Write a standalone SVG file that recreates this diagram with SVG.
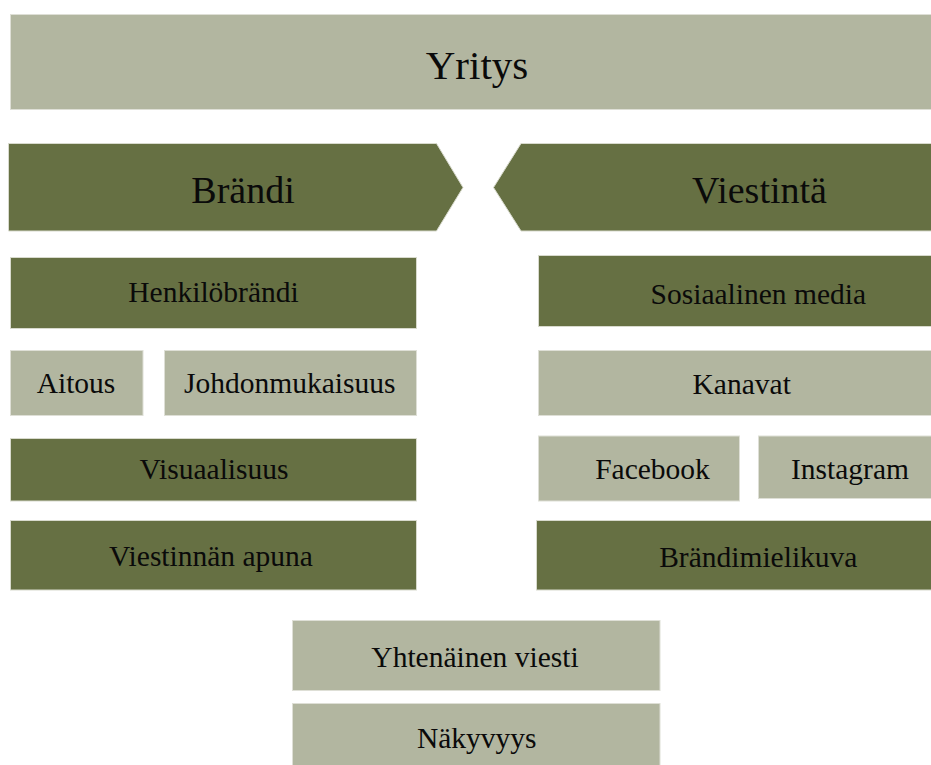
<svg xmlns="http://www.w3.org/2000/svg" width="931" height="765" viewBox="0 0 931 765">
<style>
.light{fill:#b2b6a0;stroke:#dedfd6;stroke-width:1}
.dark{fill:#667043;stroke:#d8dacd;stroke-width:1}
text{font-family:"Liberation Serif","Times New Roman",serif;fill:#0a0a0a;text-anchor:middle}
.t{font-size:29.5px}
.big{font-size:38px}
</style>
<rect width="931" height="765" fill="#ffffff"/>
<g id="yritys">
<rect class="light" x="10.5" y="14.5" width="925" height="95"/>
<text x="477" y="79" style="font-size:41px">Yritys</text>
</g>
<g id="brandi">
<polygon class="dark" points="8.5,143.5 436.5,143.5 463,187.5 436.5,231 8.5,231"/>
<text class="big" x="243" y="203">Brändi</text>
</g>
<g id="viestinta">
<polygon class="dark" points="521,143.5 935,143.5 935,231 521,231 493.5,187.5"/>
<text class="big" x="759.5" y="203">Viestintä</text>
</g>
<g id="henkilobrandi">
<rect class="dark" x="10.5" y="257.5" width="406" height="71"/>
<text class="t" x="213.5" y="302.3">Henkilöbrändi</text>
</g>
<g id="aitous">
<rect class="light" x="10.5" y="350.5" width="132.5" height="65"/>
<text class="t" x="76" y="392.7">Aitous</text>
</g>
<g id="johdonmukaisuus">
<rect class="light" x="164.5" y="350.5" width="252" height="65"/>
<text class="t" x="289.7" y="392.7">Johdonmukaisuus</text>
</g>
<g id="visuaalisuus">
<rect class="dark" x="10.5" y="438.5" width="406" height="62.5"/>
<text class="t" x="214" y="479.3">Visuaalisuus</text>
</g>
<g id="viestinnan-apuna">
<rect class="dark" x="10.5" y="520.5" width="406" height="69.5"/>
<text class="t" x="211" y="566">Viestinnän apuna</text>
</g>
<g id="sosiaalinen-media">
<rect class="dark" x="538.5" y="255.5" width="396" height="71"/>
<text class="t" x="758.3" y="304">Sosiaalinen media</text>
</g>
<g id="kanavat">
<rect class="light" x="538.5" y="350.5" width="396" height="65"/>
<text class="t" x="741.7" y="394.3">Kanavat</text>
</g>
<g id="facebook">
<rect class="light" x="538.5" y="436" width="201" height="65"/>
<text class="t" x="652.5" y="479.3">Facebook</text>
</g>
<g id="instagram">
<rect class="light" x="758.5" y="436" width="176" height="62.5"/>
<text class="t" x="850" y="479.3">Instagram</text>
</g>
<g id="brandimielikuva">
<rect class="dark" x="536.5" y="520.5" width="398" height="69.5"/>
<text class="t" x="758.3" y="566.7">Brändimielikuva</text>
</g>
<g id="yhtenainen-viesti">
<rect class="light" x="292.5" y="620.5" width="367.5" height="70"/>
<text class="t" x="475" y="666.7">Yhtenäinen viesti</text>
</g>
<g id="nakyvyys">
<rect class="light" x="292.5" y="703.5" width="367.5" height="70"/>
<text class="t" x="476.7" y="748.3">Näkyvyys</text>
</g>
<g id="connectors"/>
</svg>
